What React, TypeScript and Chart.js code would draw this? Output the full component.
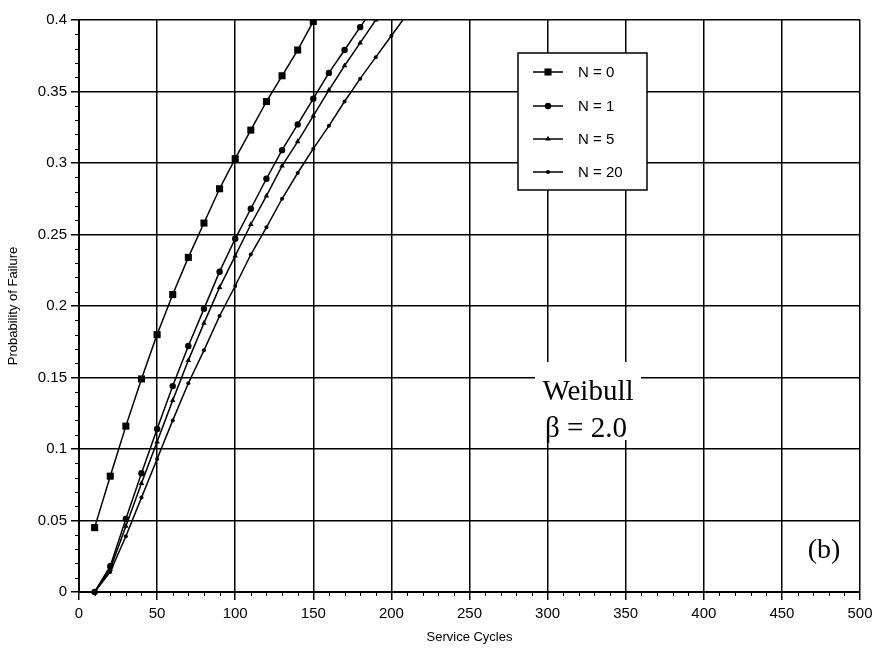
import React, { useEffect, useRef } from "react";
import { Chart, registerables } from "chart.js";

Chart.register(...registerables);

// ---- data ----
const cyclesN0 = [10, 20, 30, 40, 50, 60, 70, 80, 90, 100, 110, 120, 130, 140, 150];
const probN0 = [0.045, 0.081, 0.116, 0.149, 0.18, 0.208, 0.234, 0.258, 0.282, 0.303, 0.323, 0.343, 0.361, 0.379, 0.399];

const cyclesN1 = [10, 20, 30, 40, 50, 60, 70, 80, 90, 100, 110, 120, 130, 140, 150, 160, 170, 180, 190];
const probN1 = [0, 0.018, 0.051, 0.083, 0.114, 0.144, 0.172, 0.198, 0.224, 0.247, 0.268, 0.289, 0.309, 0.327, 0.345, 0.363, 0.379, 0.395, 0.411];

const cyclesN5 = [10, 20, 30, 40, 50, 60, 70, 80, 90, 100, 110, 120, 130, 140, 150, 160, 170, 180, 190];
const probN5 = [0, 0.016, 0.046, 0.076, 0.105, 0.134, 0.162, 0.188, 0.213, 0.235, 0.257, 0.277, 0.298, 0.315, 0.333, 0.351, 0.368, 0.384, 0.4];

const cyclesN20 = [10, 20, 30, 40, 50, 60, 70, 80, 90, 100, 110, 120, 130, 140, 150, 160, 170, 180, 190, 200, 210];
const probN20 = [0, 0.014, 0.039, 0.066, 0.093, 0.12, 0.146, 0.169, 0.193, 0.214, 0.236, 0.255, 0.275, 0.293, 0.31, 0.326, 0.343, 0.359, 0.374, 0.389, 0.404];

const seriesLabels = ["N = 0", "N = 1", "N = 5", "N = 20"];
const xTicks = [0, 50, 100, 150, 200, 250, 300, 350, 400, 450, 500];
const yTicks = [0, 0.05, 0.1, 0.15, 0.2, 0.25, 0.3, 0.35, 0.4];
const xTitle = "Service Cycles";
const yTitle = "Probability of Failure";
const noteLine1 = "Weibull";
const noteLine2 = "β = 2.0";
const panelTag = "(b)";

const pts = (xs: number[], ys: number[]) => xs.map((x, i) => ({ x, y: ys[i] }));

const markerStyles = [
  { style: "rect", r: 5 },
  { style: "circle", r: 3.2 },
  { style: "triangle", r: 3.2 },
  { style: "circle", r: 2 },
];

function drawMarker(ctx: CanvasRenderingContext2D, kind: string, r: number, x: number, y: number) {
  ctx.beginPath();
  if (kind === "rect") {
    const s = r * Math.SQRT1_2;
    ctx.rect(x - s, y - s, 2 * s, 2 * s);
  } else if (kind === "triangle") {
    ctx.moveTo(x, y - r);
    ctx.lineTo(x + r * 0.866, y + r * 0.5);
    ctx.lineTo(x - r * 0.866, y + r * 0.5);
    ctx.closePath();
  } else {
    ctx.arc(x, y, r, 0, Math.PI * 2);
  }
  ctx.fill();
}

const decorPlugin = {
  id: "decor",
  afterDraw(chart: any) {
    const { ctx, chartArea: ca, scales } = chart;
    const xs = scales.x;
    const ys = scales.y;
    ctx.save();
    ctx.strokeStyle = "#000";
    ctx.lineWidth = 1;
    // minor ticks
    for (let v = 0; v <= 500; v += 10) {
      if (v % 50 === 0) continue;
      const px = Math.round(xs.getPixelForValue(v)) + 0.5;
      ctx.beginPath();
      ctx.moveTo(px, ca.bottom);
      ctx.lineTo(px, ca.bottom + 4);
      ctx.stroke();
    }
    for (let i = 0; i <= 40; i++) {
      if (i % 5 === 0) continue;
      const py = Math.round(ys.getPixelForValue(i / 100)) + 0.5;
      ctx.beginPath();
      ctx.moveTo(ca.left - 4, py);
      ctx.lineTo(ca.left, py);
      ctx.stroke();
    }

    // annotation box
    ctx.fillStyle = "#fff";
    ctx.fillRect(ca.left + 456, ca.top + 342, 106, 78);
    ctx.fillStyle = "#000";
    ctx.textAlign = "center";
    ctx.textBaseline = "alphabetic";
    ctx.font = '29px "Liberation Serif", "DejaVu Serif", serif';
    ctx.fillText(noteLine1, ca.left + 509, ca.top + 380);
    ctx.fillText(noteLine2, ca.left + 507, ca.top + 417);
    ctx.font = '28px "Liberation Serif", "DejaVu Serif", serif';
    ctx.fillText(panelTag, ca.left + 745, ca.top + 538);

    // legend
    const bx = ca.left + 439;
    const by = ca.top + 33;
    ctx.fillStyle = "#fff";
    ctx.fillRect(bx, by, 129, 137);
    ctx.lineWidth = 1.5;
    ctx.strokeStyle = "#000";
    ctx.strokeRect(bx, by, 129, 137);
    const rows = [19, 53, 86, 119];
    ctx.font = '15px "Liberation Sans", Arial, sans-serif';
    ctx.textAlign = "left";
    ctx.textBaseline = "middle";
    seriesLabels.forEach((lab, i) => {
      const yy = by + rows[i];
      ctx.beginPath();
      ctx.lineWidth = 1.5;
      ctx.moveTo(bx + 15, yy);
      ctx.lineTo(bx + 45, yy);
      ctx.stroke();
      ctx.fillStyle = "#000";
      drawMarker(ctx, markerStyles[i].style, markerStyles[i].r, bx + 30, yy);
      ctx.fillText(lab, bx + 60, yy + 1);
    });
    ctx.restore();
  },
};

export default function App() {
  const ref = useRef<HTMLCanvasElement | null>(null);

  useEffect(() => {
    if (!ref.current) return;
    const mk = (label: string, data: any[], i: number) => ({
      label,
      data,
      borderColor: "#000",
      backgroundColor: "#000",
      borderWidth: 1.5,
      pointStyle: markerStyles[i].style,
      pointRadius: markerStyles[i].r,
      pointBorderWidth: 0,
      pointBackgroundColor: "#000",
      tension: 0,
      fill: false,
      clip: { left: 6, bottom: 6, top: 0, right: 0 },
    });
    const chart = new Chart(ref.current, {
      type: "line",
      data: {
        datasets: [
          mk(seriesLabels[0], pts(cyclesN0, probN0), 0),
          mk(seriesLabels[1], pts(cyclesN1, probN1), 1),
          mk(seriesLabels[2], pts(cyclesN5, probN5), 2),
          mk(seriesLabels[3], pts(cyclesN20, probN20), 3),
        ],
      },
      options: {
        animation: false,
        responsive: false,
        layout: { padding: { top: 20, right: 26, left: 0, bottom: 0 } },
        plugins: { legend: { display: false }, tooltip: { enabled: false } },
        scales: {
          x: {
            type: "linear",
            min: 0,
            max: 500,
            afterFit: (s: any) => { s.height = 57; },
            afterBuildTicks: (s: any) => { s.ticks = xTicks.map((v) => ({ value: v })); },
            ticks: {
              color: "#000",
              padding: 5,
              maxRotation: 0,
              font: { family: '"Liberation Sans", Arial, sans-serif', size: 15 },
            },
            grid: { color: "#000", lineWidth: 1.5, tickLength: 8, tickColor: "#000", tickWidth: 1.5 },
            border: { color: "#000", width: 2 },
            title: {
              display: true,
              text: xTitle,
              color: "#000",
              padding: { top: 0, bottom: 4 },
              font: { family: '"Liberation Sans", Arial, sans-serif', size: 13 },
            },
          },
          y: {
            type: "linear",
            min: 0,
            max: 0.4,
            afterFit: (s: any) => { s.width = 79; },
            afterBuildTicks: (s: any) => { s.ticks = yTicks.map((v) => ({ value: v })); },
            ticks: {
              color: "#000",
              padding: 4,
              font: { family: '"Liberation Sans", Arial, sans-serif', size: 15 },
              callback: (v: any) => String(Math.round(Number(v) * 100) / 100),
            },
            grid: { color: "#000", lineWidth: 1.5, tickLength: 8, tickColor: "#000", tickWidth: 1.5 },
            border: { color: "#000", width: 2 },
            title: {
              display: true,
              text: yTitle,
              color: "#000",
              padding: { top: 6, bottom: 0 },
              font: { family: '"Liberation Sans", Arial, sans-serif', size: 13 },
            },
          },
        },
      },
      plugins: [decorPlugin],
    } as any);
    return () => chart.destroy();
  }, []);

  return (
    <div style={{ position: "absolute", left: 0, top: 0, width: 886, height: 649, background: "#fff" }}>
      <canvas ref={ref} width={886} height={649} style={{ display: "block" }} />
    </div>
  );
}
